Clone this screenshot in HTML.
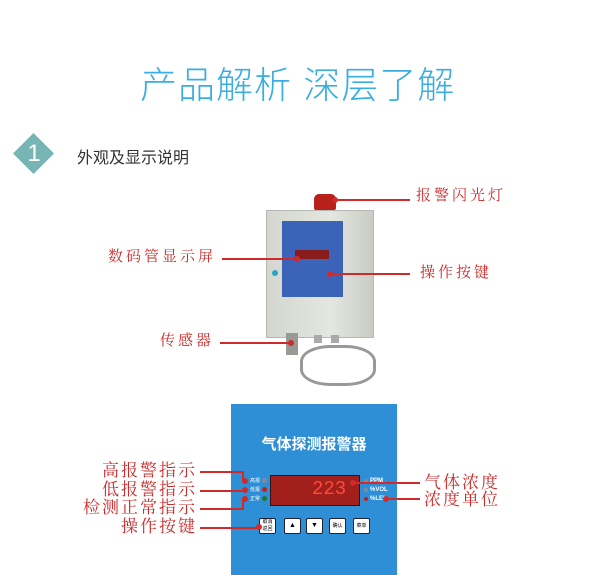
<!DOCTYPE html>
<html><head><meta charset="utf-8"><style>
body{margin:0;width:600px;height:575px;background:#fff;position:relative;overflow:hidden;font-family:"Liberation Sans","Noto Sans CJK SC",sans-serif}
.a{position:absolute}
.r{color:#cc2b2b;font-family:"Liberation Serif","Noto Serif CJK SC",serif;white-space:nowrap;line-height:1}
.l{position:absolute;background:#d02a2a;height:2px}
.d{position:absolute;width:6px;height:6px;border-radius:50%;background:#d02a2a}
.btn{position:absolute;width:15px;height:14px;background:#fff;border:1px solid #223;border-radius:2px;font-size:7px;text-align:center;line-height:14px}
</style></head><body>
<div class="a" style="left:140px;top:55px;font-size:37px;color:#3aaee0;font-weight:300;letter-spacing:1px;white-space:nowrap">产品解析 深层了解</div>
<div class="a" style="left:19px;top:139px;width:29px;height:29px;background:#77b5b4;transform:rotate(45deg)"></div>
<div class="a" style="left:26px;top:140px;width:16px;font-size:24px;color:#fff;text-align:center">1</div>
<div class="a" style="left:77px;top:144px;font-size:16px;color:#333;white-space:nowrap">外观及显示说明</div>

<!-- device -->
<div class="a" style="left:314px;top:194px;width:22px;height:16px;background:#b8201c;border-radius:5px 5px 2px 2px"></div>
<div class="a" style="left:266px;top:210px;width:106px;height:126px;background:linear-gradient(90deg,#d4d7d0,#e4e6e0 60%,#c9ccc5);border:1px solid #b5b8b0"></div>
<div class="a" style="left:282px;top:221px;width:61px;height:76px;background:#3b63b8"></div>
<div class="a" style="left:295px;top:250px;width:34px;height:9px;background:#8b1c1c"></div>
<div class="a" style="left:272px;top:270px;width:6px;height:6px;border-radius:50%;background:#2aa5c8"></div>
<div class="a" style="left:286px;top:333px;width:12px;height:22px;background:#9a9a95"></div>
<div class="a" style="left:314px;top:335px;width:8px;height:8px;background:#aaa"></div>
<div class="a" style="left:331px;top:335px;width:8px;height:8px;background:#aaa"></div>
<div class="a" style="left:300px;top:345px;width:70px;height:35px;border:3px solid #999;border-radius:40%"></div>
<div class="l" style="left:335px;top:199px;width:75px"></div><div class="d" style="left:332px;top:197px"></div>
<div class="r a" style="left:416px;top:189px;font-size:15px;letter-spacing:3px">报警闪光灯</div>
<div class="l" style="left:222px;top:258px;width:75px"></div><div class="d" style="left:294px;top:256px"></div>
<div class="r a" style="left:108px;top:250px;font-size:15px;letter-spacing:3px">数码管显示屏</div>
<div class="l" style="left:330px;top:273px;width:80px"></div><div class="d" style="left:327px;top:271px"></div>
<div class="r a" style="left:420px;top:266px;font-size:15px;letter-spacing:3px">操作按键</div>
<div class="l" style="left:220px;top:342px;width:72px"></div><div class="d" style="left:288px;top:340px"></div>
<div class="r a" style="left:160px;top:334px;font-size:15px;letter-spacing:3px">传感器</div>

<!-- panel -->
<div class="a" style="left:231px;top:404px;width:166px;height:171px;background:#2e8fd6"></div>
<div class="a" style="left:231px;top:433px;width:166px;text-align:center;font-size:15px;font-weight:bold;color:#fff;white-space:nowrap">气体探测报警器</div>
<div class="a" style="left:270px;top:475px;width:88px;height:29px;background:#a1201c;border:1px solid #3a1010"></div>
<div class="a" style="left:312px;top:478px;font-size:19px;color:#ff4a3a;font-family:'Liberation Mono',monospace">223</div>
<div class="a" style="left:250px;top:477px;font-size:5px;color:#fff;line-height:9px">高报<br>低报<br>正常</div>
<div class="a" style="left:262px;top:478px;width:5px;height:5px;border-radius:50%;background:#889"></div>
<div class="a" style="left:262px;top:487px;width:5px;height:5px;border-radius:50%;background:#b22"></div>
<div class="a" style="left:262px;top:496px;width:5px;height:5px;border-radius:50%;background:#1a7a2a"></div>
<div class="a" style="left:364px;top:479px;width:4px;height:4px;border-radius:50%;background:#889"></div>
<div class="a" style="left:364px;top:488px;width:4px;height:4px;border-radius:50%;background:#889"></div>
<div class="a" style="left:364px;top:497px;width:4px;height:4px;border-radius:50%;background:#b22"></div>
<div class="a" style="left:370px;top:477px;font-size:6px;color:#fff;line-height:9px;font-weight:bold">PPM<br>%VOL<br>%LEL</div>
<div class="btn" style="left:259px;top:518px;font-size:5px;line-height:7px">取消<br>返回</div>
<div class="btn" style="left:284px;top:518px">▲</div>
<div class="btn" style="left:306px;top:518px">▼</div>
<div class="btn" style="left:329px;top:518px;font-size:5px">确认</div>
<div class="btn" style="left:353px;top:518px;font-size:5px">菜单</div>

<div class="l" style="left:200px;top:471px;width:44px"></div><div class="a" style="left:242px;top:471px;width:2px;height:10px;background:#d02a2a"></div><div class="d" style="left:242px;top:478px"></div>
<div class="l" style="left:200px;top:490px;width:44px"></div><div class="d" style="left:242px;top:487px"></div>
<div class="l" style="left:200px;top:508px;width:44px"></div><div class="a" style="left:242px;top:498px;width:2px;height:11px;background:#d02a2a"></div><div class="d" style="left:242px;top:496px"></div>
<div class="l" style="left:200px;top:527px;width:58px"></div><div class="d" style="left:256px;top:524px"></div>
<div class="r a" style="left:60px;top:462px;width:137px;text-align:right;font-size:17px;letter-spacing:2px">高报警指示</div>
<div class="r a" style="left:60px;top:481px;width:137px;text-align:right;font-size:17px;letter-spacing:2px">低报警指示</div>
<div class="r a" style="left:40px;top:499px;width:157px;text-align:right;font-size:17px;letter-spacing:2px">检测正常指示</div>
<div class="r a" style="left:60px;top:518px;width:137px;text-align:right;font-size:17px;letter-spacing:2px">操作按键</div>
<div class="l" style="left:353px;top:482px;width:67px"></div><div class="d" style="left:350px;top:480px"></div>
<div class="l" style="left:386px;top:498px;width:34px"></div><div class="d" style="left:383px;top:496px"></div>
<div class="r a" style="left:424px;top:474px;font-size:17px;letter-spacing:2px">气体浓度</div>
<div class="r a" style="left:424px;top:491px;font-size:17px;letter-spacing:2px">浓度单位</div>
</body></html>
